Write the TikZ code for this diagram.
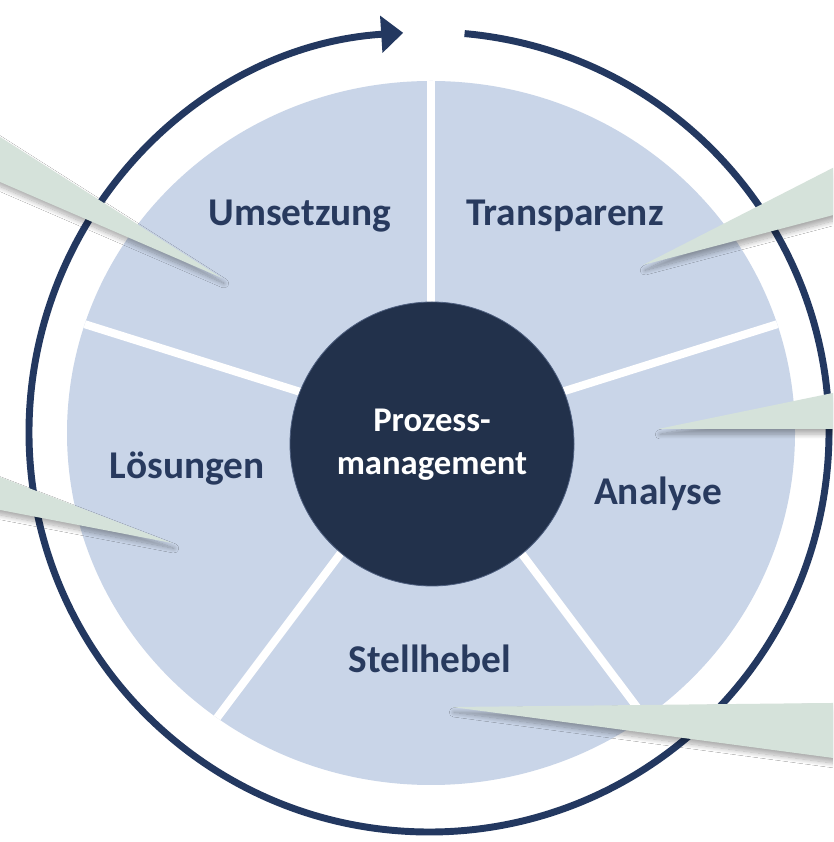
\documentclass[tikz,border=0pt]{standalone}
\usepackage{fontspec}
\setmainfont{Carlito}
\usetikzlibrary{arrows.meta,shadows.blur}
\definecolor{piefill}{RGB}{201,213,232}
\definecolor{corenavy}{RGB}{34,49,75}
\definecolor{ringnavy}{RGB}{35,56,96}
\definecolor{labelnavy}{RGB}{40,58,94}
\definecolor{calloutfill}{RGB}{213,226,218}
\tikzset{
  gapline/.style={white, line width=6pt},
  seglabel/.style={text=labelnavy, font=\fontsize{29.5}{34}\selectfont\bfseries, anchor=base, inner sep=0pt},
  callout/.style={fill=calloutfill, blur shadow={shadow xshift=1.5pt, shadow yshift=-4pt, shadow blur steps=12, shadow blur extra rounding=0pt, shadow blur radius=3.5pt, shadow opacity=32}},
  ringline/.style={draw=ringnavy, line width=5.2pt, -{Triangle[length=16.5pt,width=27pt]}},
}
\begin{document}
\begin{tikzpicture}[x=0.75pt,y=0.75pt]
\useasboundingbox (0,0) rectangle (833,842);
\clip (0,0) rectangle (833,842);
\fill[white] (0,0) rectangle (833,842);
\coordinate (pc) at (431,409);
\coordinate (rc) at (429,410);
% outer ring with arrow
\draw[ringline] (rc) ++(84.9:300pt) arc[start angle=84.9, end angle=-266.3, radius=300pt];
% pie
\fill[piefill] (pc) ellipse[x radius=273pt, y radius=264pt];
\begin{scope}
  \clip (pc) ellipse[x radius=273pt, y radius=264pt];
  \foreach \a in {90,18,-54,-126,162}
    \draw[gapline] (pc) -- ++({1.034*cos(\a)*420},{sin(\a)*420});
\end{scope}
% callouts
\fill[callout] (222,564) -- (-30,724) -- (-30,673) -- cycle;
\fill[callout] (643,577) -- (860,688) -- (860,634) -- cycle;
\fill[callout] (658,413) -- (860,454.6) -- (860,413) -- cycle;
\fill[callout] (172,299) -- (-30,376.5) -- (-30,337.8) -- cycle;
\fill[callout] (452,135) -- (860,139.3) -- (860,80.4) -- cycle;
% centre
\node[circle, fill=corenavy, draw=ringnavy!80, line width=0.6pt, minimum size=213pt, inner sep=0pt] (core) at (432,398) {};
\node[text=white, font=\fontsize{26}{32.5}\selectfont\bfseries, align=center] (coretext) at (432,397) {Prozess-\\management};
% labels
\node[seglabel] (umsetzung) at (300,616) {Umsetzung};
\node[seglabel] (transparenz) at (565,616) {Transparenz};
\node[seglabel] (loesungen) at (187,363) {Lösungen};
\node[seglabel] (analyse) at (658,337) {Analyse};
\node[seglabel] (stellhebel) at (430,169) {Stellhebel};
\end{tikzpicture}
\end{document}
